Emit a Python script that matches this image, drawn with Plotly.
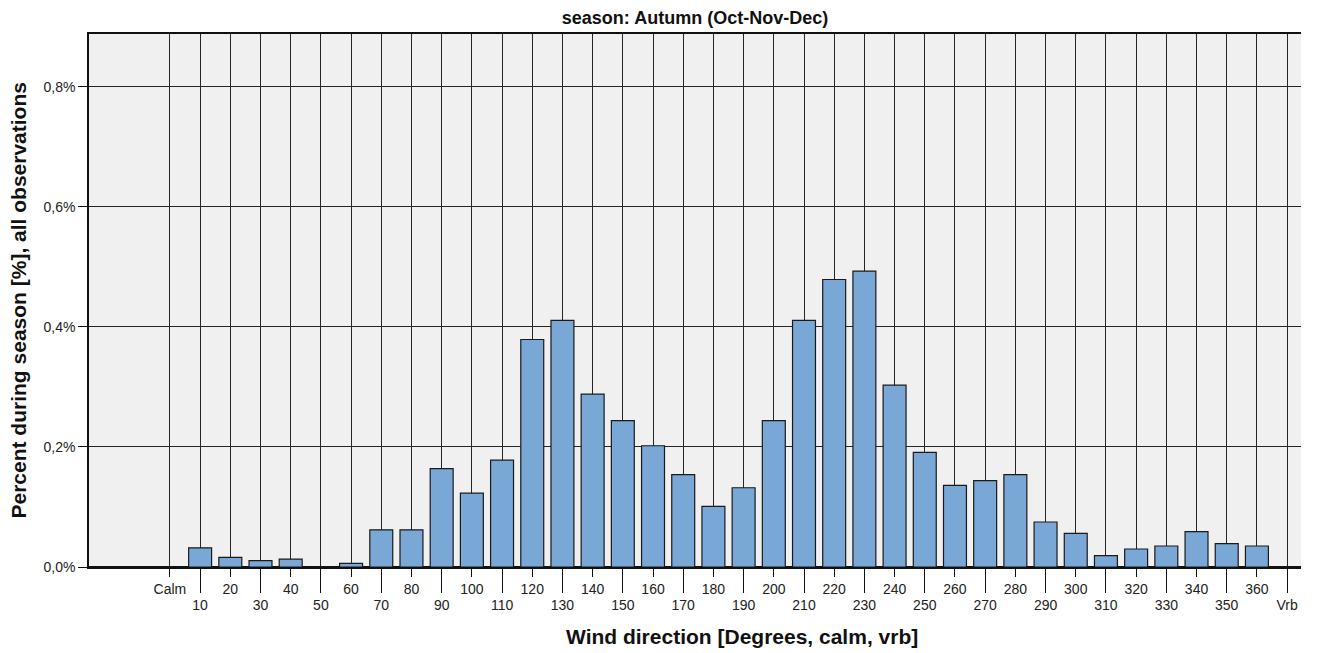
import plotly.graph_objects as go

categories = ["Calm"] + [str(d) for d in range(10, 370, 10)] + ["Vrb"]
percent = [0.0, 0.032, 0.016, 0.0105, 0.013, 0.0, 0.006, 0.062, 0.062, 0.164,
           0.123, 0.178, 0.379, 0.411, 0.288, 0.244, 0.202, 0.154, 0.101, 0.132,
           0.244, 0.411, 0.479, 0.493, 0.303, 0.191, 0.136, 0.144, 0.154, 0.075,
           0.056, 0.019, 0.030, 0.035, 0.059, 0.039, 0.035, 0.0]
y_ticks = [0.0, 0.2, 0.4, 0.6, 0.8]
y_ticktext = [f"{v:.1f}%".replace(".", ",") for v in y_ticks]

title_text = "season: Autumn (Oct-Nov-Dec)"
x_title = "Wind direction [Degrees, calm, vrb]"
y_title = "Percent during season [%], all observations"

even_cats = categories[0::2]
odd_cats = categories[1::2]

font_family = "Liberation Sans, Arial, sans-serif"
grid_col = "#262626"
xrange = [-2.68, 37.46]

# page body has an 8px margin; compensate so the plot lands where the reference has it
W, H = 1309, 645

fig = go.Figure()
fig.add_trace(go.Bar(
    x=categories, y=percent, width=0.76,
    marker=dict(color="#79A8D6", line=dict(color="#1a1a1a", width=1.2)),
    showlegend=False, hoverinfo="x+y",
))
fig.add_trace(go.Scatter(
    x=categories, y=[0] * len(categories), xaxis="x2", yaxis="y",
    mode="markers", marker=dict(opacity=0), showlegend=False, hoverinfo="skip",
))

fig.update_layout(
    width=W, height=H,
    margin=dict(l=81, r=16, t=26, b=86, autoexpand=False),
    paper_bgcolor="white", plot_bgcolor="#F0F0F0",
    font=dict(family=font_family, color="#222222", size=14),
    title=dict(text="<b>" + title_text + "</b>", x=0.5, xref="paper",
               y=1 - 10 / H, yref="container", yanchor="middle", xanchor="center",
               font=dict(size=18, color="#111111", family=font_family)),
    xaxis=dict(
        type="category", categoryorder="array", categoryarray=categories,
        range=xrange, tickmode="array", tickvals=even_cats, ticktext=even_cats,
        ticks="outside", ticklen=8, tickwidth=1.3, tickcolor="#111111",
        showgrid=True, gridcolor=grid_col, gridwidth=1.4,
        showline=True, linecolor="#111111", linewidth=1.5, mirror=True,
        tickfont=dict(size=14, color="#222222"), zeroline=False,
        automargin=False,
    ),
    xaxis2=dict(
        type="category", categoryorder="array", categoryarray=categories,
        overlaying="x", anchor="y", side="bottom",
        range=xrange, tickmode="array", tickvals=odd_cats, ticktext=odd_cats,
        ticks="outside", ticklen=25, tickwidth=1.3, tickcolor="#111111",
        showgrid=True, gridcolor=grid_col, gridwidth=1.4,
        showline=False, tickfont=dict(size=14, color="#222222"), zeroline=False,
        automargin=False,
    ),
    yaxis=dict(
        range=[0, 0.888], tickmode="array", tickvals=y_ticks, ticktext=y_ticktext,
        ticks="outside", ticklen=9, tickwidth=1.3, tickcolor="#111111",
        showgrid=True, gridcolor=grid_col, gridwidth=1.4,
        showline=True, linecolor="#111111", linewidth=1.5,
        zeroline=True, zerolinecolor="#111111", zerolinewidth=1.5,
        tickfont=dict(size=14, color="#222222"), automargin=False,
    ),
    annotations=[
        dict(text="<b>" + x_title + "</b>", xref="paper", yref="paper",
             x=0.539, y=0, yshift=-69, showarrow=False, xanchor="center", yanchor="middle",
             font=dict(size=21, color="#111111", family=font_family)),
        dict(text="<b>" + y_title + "</b>", xref="paper", yref="paper",
             x=0, y=0.5, xshift=-71, showarrow=False, textangle=-90,
             xanchor="center", yanchor="middle",
             font=dict(size=21, color="#111111", family=font_family)),
    ],
)

fig.write_html("out.html")
